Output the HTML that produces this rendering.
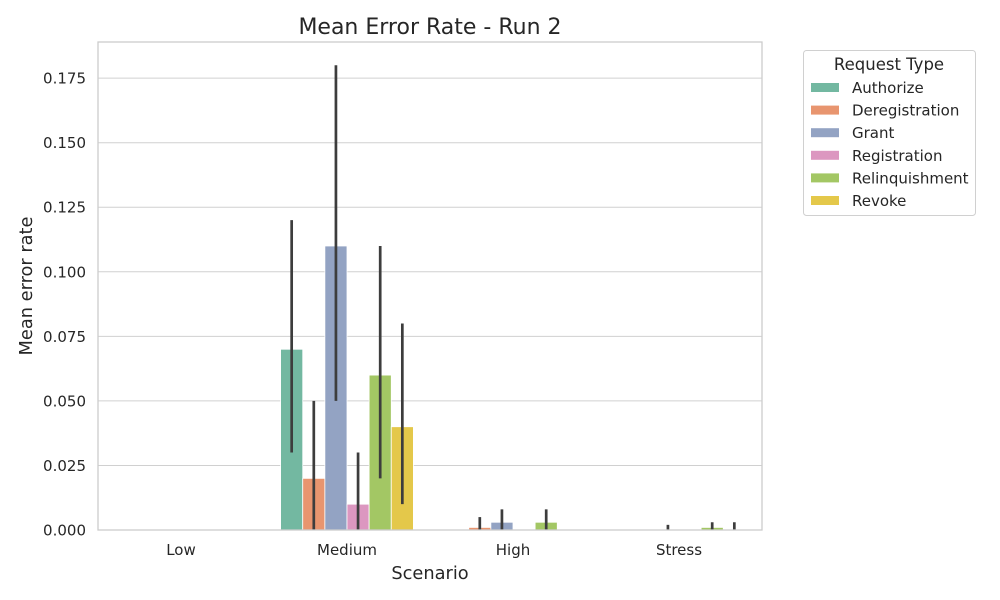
<!DOCTYPE html>
<html><head><meta charset="utf-8"><style>
body{margin:0;background:#fff;}
svg{display:block;font-family:"DejaVu Sans","Liberation Sans",sans-serif;}
</style></head><body>
<svg id="chart" width="1000" height="600"></svg>
<script>
const scenarios = ["Low","Medium","High","Stress"];
const types = ["Authorize","Deregistration","Grant","Registration","Relinquishment","Revoke"];
const colors = ["#73b8a1","#e8956f","#93a3c3","#dc97c0","#a3c764","#e4c84a"];
const meanAuthorize = [0,0.07,0,0];
const meanDeregistration = [0,0.02,0.001,0];
const meanGrant = [0,0.11,0.003,0];
const meanRegistration = [0,0.01,0,0];
const meanRelinquishment = [0,0.06,0.003,0.001];
const meanRevoke = [0,0.04,0,0];
const loAuthorize=[0,0.03,0,0], hiAuthorize=[0,0.12,0,0];
const loDeregistration=[0,0,0,0], hiDeregistration=[0,0.05,0.005,0];
const loGrant=[0,0.05,0,0], hiGrant=[0,0.18,0.008,0.002];
const loRegistration=[0,0,0,0], hiRegistration=[0,0.03,0,0];
const loRelinquishment=[0,0.02,0,0], hiRelinquishment=[0,0.11,0.008,0.003];
const loRevoke=[0,0.01,0,0], hiRevoke=[0,0.08,0,0.003];
const yTicks=[0,0.025,0.05,0.075,0.1,0.125,0.15,0.175];
const means=[meanAuthorize,meanDeregistration,meanGrant,meanRegistration,meanRelinquishment,meanRevoke];
const los=[loAuthorize,loDeregistration,loGrant,loRegistration,loRelinquishment,loRevoke];
const his=[hiAuthorize,hiDeregistration,hiGrant,hiRegistration,hiRelinquishment,hiRevoke];

const L=98,R=762,T=42,B=530;
const yMax=0.189;
const y=v=>B-(v/yMax)*(B-T);
const gw=(R-L)/scenarios.length;
const bw=gw*0.8/types.length;
const xc=i=>L+gw*(i+0.5);
const svg=document.getElementById('chart');
const NS='http://www.w3.org/2000/svg';
function mk(tag,attrs,txt){const e=document.createElementNS(NS,tag);for(const k in attrs)e.setAttribute(k,attrs[k]);if(txt!==undefined)e.textContent=txt;svg.appendChild(e);return e;}

yTicks.forEach(t=>{
  const g=mk('line',{x1:L,x2:R,y1:y(t),y2:y(t),stroke:'#d0d0d0','stroke-width':1});
  
  
  const l=mk('text',{x:L-12,y:y(t)+5.5,'text-anchor':'end','font-size':15,fill:'#262626'},t.toFixed(3));
  
  
});
scenarios.forEach((s,i)=>{
  const l=mk('text',{x:xc(i),y:555,'text-anchor':'middle','font-size':15,fill:'#262626'},s);
  
  
});
types.forEach((t,j)=>{
  scenarios.forEach((s,i)=>{
    const x0=xc(i)-gw*0.4+j*bw;
    const v=means[j][i];
    if(v>0){
      const r=mk('rect',{x:x0,y:y(v),width:bw,height:B-y(v),fill:colors[j],stroke:'#fff','stroke-width':0.8});
      
      
    }
    if(his[j][i]>0){
      const e=mk('line',{x1:x0+bw/2,x2:x0+bw/2,y1:y(los[j][i]),y2:y(his[j][i]),stroke:'#3d3d3d','stroke-width':2.7});
      
      
    }
  });
});
const fr=mk('rect',{x:L,y:T,width:R-L,height:B-T,fill:'none',stroke:'#cccccc','stroke-width':1.3});


const ti=mk('text',{x:430,y:34,'text-anchor':'middle','font-size':22,fill:'#262626'},'Mean Error Rate - Run 2');


const xt=mk('text',{x:430,y:579,'text-anchor':'middle','font-size':17.8,fill:'#262626'},'Scenario');


const yt=mk('text',{x:32,y:286,'text-anchor':'middle','font-size':17.8,fill:'#262626',transform:'rotate(-90 32 286)'},'Mean error rate');


const lg=mk('rect',{x:803.5,y:50.5,width:172,height:165,rx:3,fill:'#fff',stroke:'#d0d0d0'});


const lt=mk('text',{x:889,y:70,'text-anchor':'middle','font-size':16.5,fill:'#262626'},'Request Type');


types.forEach((t,j)=>{
  const yy=88+j*22.6;
  const s=mk('rect',{x:811,y:yy-5,width:28,height:9,fill:colors[j]});
  
  
  const tx=mk('text',{x:852,y:yy+5,'font-size':15,fill:'#262626'},t);
  
  
});
</script>
</body></html>
